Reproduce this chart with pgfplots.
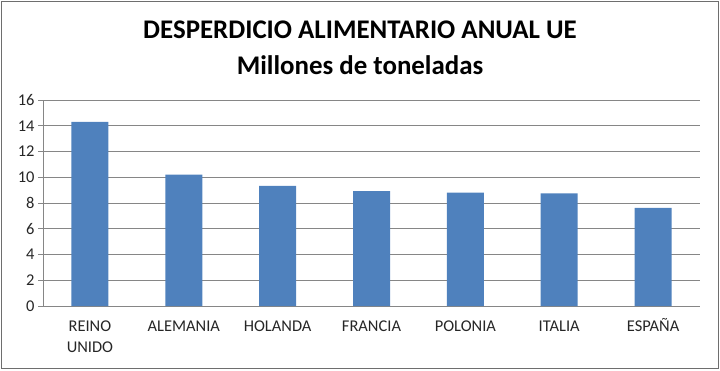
\documentclass[border=0pt]{standalone}
\usepackage{pgfplots}
\pgfplotsset{compat=1.18}
\usepackage{fontspec}
\setmainfont{Carlito}
\definecolor{barblue}{RGB}{79,129,189}
\definecolor{gridgray}{RGB}{134,134,134}
\definecolor{framegray}{RGB}{110,110,110}
\newcommand{\st}{\vphantom{Ñ}}
\begin{document}
\begin{tikzpicture}[x=1bp,y=1bp]
\path[use as bounding box] (0,0) rectangle (720,370);
\draw[framegray, line width=1.5bp] (1.5,1.5) rectangle (718.5,368.5);
\begin{axis}[
  at={(43bp,64bp)}, anchor=south west,
  scale only axis, width=657bp, height=206bp,
  ymin=0, ymax=16, ytick={0,2,...,16},
  xmin=-0.5, xmax=6.5,
  xtick={0,...,6},
  xticklabels={{\st REINO\\UNIDO},{\st ALEMANIA},{\st HOLANDA},{\st FRANCIA},{\st POLONIA},{\st ITALIA},{\st ESPAÑA}},
  xticklabel style={align=center, font=\fontsize{16.5}{21}\selectfont, text=black!85, anchor=north, yshift=-4bp},
  yticklabel style={font=\fontsize{16.5}{18}\selectfont, text=black!85},
  /pgf/number format/assume math mode=true,
  extra x ticks={-0.5,0.5,...,6.5}, extra x tick labels={},
  extra x tick style={major tick length=6bp, tick style={gridgray, line width=0.8bp}, tick align=outside, grid=none},
  major x tick style={draw=none},
  ytick style={gridgray, line width=0.8bp},
  major tick length=5bp,
  tick align=outside,
  tick pos=left,
  ymajorgrids, grid style={gridgray, line width=0.8bp},
  axis x line*=bottom, axis y line*=left,
  axis line style={gridgray, line width=0.8bp},
  ybar, bar width=37bp,
]
\addplot[fill=barblue, draw=none] coordinates {(0,14.3) (1,10.2) (2,9.33) (3,8.93) (4,8.8) (5,8.75) (6,7.63)};
\end{axis}
\node[font=\fontsize{27}{30}\selectfont\bfseries] at (360,340) {DESPERDICIO ALIMENTARIO ANUAL UE};
\node[font=\fontsize{27}{30}\selectfont\bfseries] at (360,305) {Millones de toneladas};
\end{tikzpicture}
\end{document}
